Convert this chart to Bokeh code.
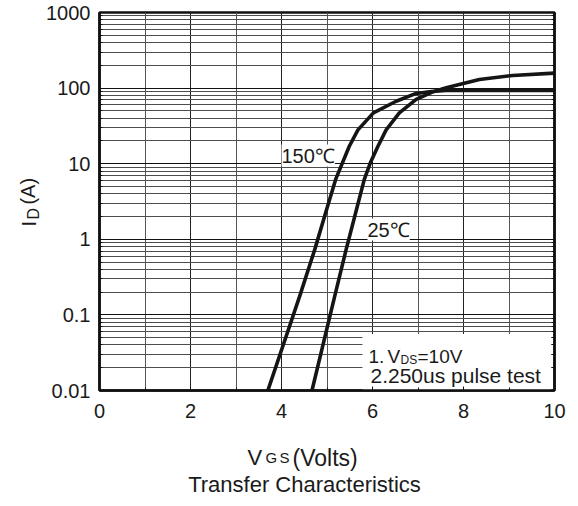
import math
from bokeh.plotting import figure
from bokeh.layouts import column, row
from bokeh.models import (FixedTicker, CustomJSTickFormatter, LogAxis, Label,
                          BoxAnnotation, Range1d)
from bokeh.core.properties import value
from bokeh.embed import file_html
from bokeh.resources import INLINE

# ---- data ----
vgs_150 = [3.70, 4.40, 4.73, 4.97, 5.19, 5.49, 5.68, 6.02, 6.52, 6.96, 7.30, 7.62, 8.0, 9.0, 10.0]
id_150 = [0.01, 0.177, 0.73, 2.24, 6.2, 17, 28, 47, 67, 85, 90, 93, 93, 93, 93]
vgs_25 = [4.67, 5.17, 5.42, 5.63, 5.82, 5.95, 6.12, 6.30, 6.59, 6.96, 7.30, 7.62, 8.35, 9.08, 10.0]
id_25 = [0.01, 0.177, 0.73, 2.24, 6.2, 10.2, 17, 28, 47, 71, 88, 101, 130, 147, 158]

x_ticks = [0, 2, 4, 6, 8, 10]
x_minor = [1, 3, 5, 7, 9]
y_ticks = [0.01, 0.1, 1, 10, 100, 1000]
y_minor = [m * d for d in y_ticks[:-1] for m in range(2, 10)]

FONT = "Liberation Sans"
TXT = "#1a1a1a"

LEFT_W = 40          # width of the y-title strip
MAIN_H = 431         # height of the main chart
BOT_H = 70           # height of the x-title strip
BOT_REF = 439        # reference used for the x-title strip text mapping

# main chart: frame in picture pixels 100..555 (x), 13..391 (y)
p = figure(width=530, height=MAIN_H, output_backend="svg", toolbar_location=None,
           y_axis_type="log", x_range=Range1d(0, 10), y_range=Range1d(0.01, 1000),
           min_border_left=59, min_border_right=16, min_border_top=12,
           min_border_bottom=41)
p.background_fill_color = "white"
p.border_fill_color = "white"
p.outline_line_color = "#111111"
p.outline_line_width = 2.5

p.xaxis.ticker = FixedTicker(ticks=x_ticks, minor_ticks=x_minor)
p.yaxis.ticker = FixedTicker(ticks=y_ticks, minor_ticks=y_minor)
p.yaxis.formatter = CustomJSTickFormatter(code="return String(Number(tick.toPrecision(6)));")

for ax in (p.xaxis[0], p.yaxis[0]):
    ax.axis_line_color = "#111111"
    ax.axis_line_width = 2.5
    ax.major_tick_in = 4
    ax.major_tick_out = 0
    ax.minor_tick_in = 3
    ax.minor_tick_out = 0
    ax.major_tick_line_color = "#111111"
    ax.minor_tick_line_color = "#111111"
    ax.major_label_text_font = FONT
    ax.major_label_text_font_size = "20px"
    ax.major_label_text_color = TXT
p.xaxis.major_label_standoff = 13
p.yaxis.major_label_standoff = 9

rax = LogAxis(ticker=FixedTicker(ticks=y_ticks, minor_ticks=y_minor),
              major_label_text_font_size="1px", major_label_text_color=None,
              axis_line_color="#111111",
              axis_line_width=2.5, major_tick_in=4, major_tick_out=0,
              minor_tick_in=3, minor_tick_out=0,
              major_tick_line_color="#111111", minor_tick_line_color="#111111")
p.add_layout(rax, "right")

p.xgrid.grid_line_color = "#222222"
p.xgrid.grid_line_width = 1
p.xgrid.minor_grid_line_color = "#555555"
p.xgrid.minor_grid_line_width = 1
p.ygrid.grid_line_color = "#111111"
p.ygrid.grid_line_width = 1
p.ygrid.minor_grid_line_color = "#4d4d4d"
p.ygrid.minor_grid_line_width = 1

# white box behind the test-condition note (below the axis ticks)
note_box = BoxAnnotation(left=5.78, right=9.93, bottom=0.01, top=0.056,
                         fill_color="white", fill_alpha=1.0, line_color=None,
                         level="glyph")
p.add_layout(note_box)

p.line(vgs_150, id_150, line_color="#151515", line_width=3.6, line_join="round")
p.line(vgs_25, id_25, line_color="#151515", line_width=3.6, line_join="round")


# picture-pixel -> data coordinate helpers (frame 100..555 x, 13..391 y)
def dx(px):
    return (px - 100) / 45.5


def dy(py):
    return 10 ** (3 - (py - 13) / 75.6)


def lab(text, px, py, size, bg=None):
    kw = {}
    if bg is not None:
        kw = dict(background_fill_color=bg, background_fill_alpha=1.0)
    l = Label(x=dx(px), y=dy(py), text=text,
              text_font=FONT, text_font_size=f"{size}px", text_color=TXT,
              text_align="left", text_baseline="alphabetic", **kw)
    p.add_layout(l)
    return l


# curve labels
lab("150\u2103", 282, 156, 20, bg="white")
lab("25\u2103", 368, 230, 20, bg="white")

# test condition note
lab("1.", 369, 357, 19)
lab("V", 388, 357, 19)
lab("DS", 401, 360, 12)
lab("=10V", 418, 357, 19)
lab("2.250us pulse test", 371, 376, 21)


def strip(w, h):
    f = figure(width=w, height=h, output_backend="svg", toolbar_location=None,
               title=None, x_range=Range1d(0, w), y_range=Range1d(0, h),
               min_border=0, min_border_left=0, min_border_right=0,
               min_border_top=0, min_border_bottom=0)
    f.axis.visible = False
    f.grid.visible = False
    f.outline_line_color = None
    f.background_fill_color = "white"
    f.border_fill_color = "white"
    return f


# y-axis title strip (picture pixels: x 0..40, y 0..431)
left = strip(LEFT_W, MAIN_H)
r = math.pi / 2


def ltxt(text, px, py, size):
    left.text(x=[px], y=[MAIN_H - py], text=[text], angle=r,
              text_font=value(FONT), text_font_size=value(f"{size}px"),
              text_color=TXT, text_align="left", text_baseline="alphabetic")


ltxt("I", 28, 244, 20)
ltxt("D", 33, 236, 16)
ltxt("(A)", 27, 219, 20)

# x-axis title strip
bottom = strip(LEFT_W + 530, BOT_H)


def btxt(text, px, py, size, align="left"):
    bottom.text(x=[px], y=[BOT_REF + BOT_H - py], text=[text],
                text_font=value(FONT), text_font_size=value(f"{size}px"),
                text_color=TXT, text_align=align, text_baseline="alphabetic")


btxt("V", 247, 465, 22)
btxt("G", 265, 465, 15)
btxt("S", 279, 465, 15)
btxt("(Volts)", 292, 465, 23)
btxt("Transfer Characteristics", 304, 492, 22, align="center")

layout = column(row(left, p, spacing=0), bottom, spacing=0)

open("out.html", "w").write(file_html(layout, INLINE))
